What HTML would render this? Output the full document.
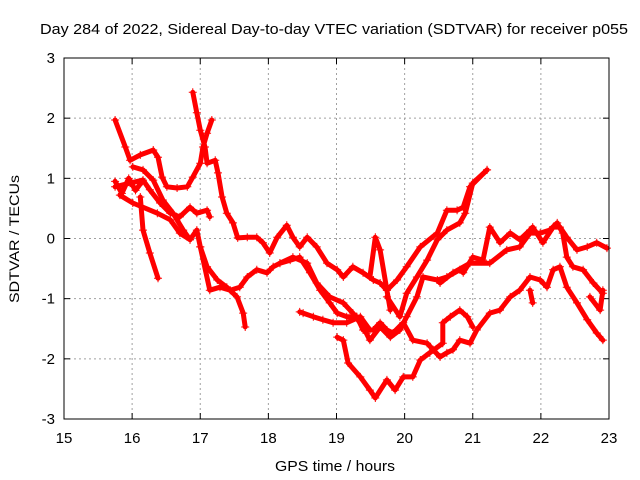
<!DOCTYPE html>
<html><head><meta charset="utf-8"><style>
html,body{margin:0;padding:0;background:#fff;}
svg{display:block;font-family:"Liberation Sans",sans-serif;}
</style></head><body>
<svg id="chart" width="640" height="480" xmlns="http://www.w3.org/2000/svg">
<rect width="640" height="480" fill="#fff"/>
<text x="334" y="34" font-size="15" text-anchor="middle" textLength="588" lengthAdjust="spacingAndGlyphs">Day 284 of 2022, Sidereal Day-to-day VTEC variation (SDTVAR) for receiver p055</text>
<text x="335" y="471" font-size="15" text-anchor="middle" textLength="120" lengthAdjust="spacingAndGlyphs">GPS time / hours</text>
<text x="19" y="239" font-size="14" text-anchor="middle" textLength="128" lengthAdjust="spacingAndGlyphs" transform="rotate(-90 19 239)">SDTVAR / TECUs</text>
<g id="grid"></g><g id="ticks"></g><g id="series"></g>
<rect x="64" y="58" width="545" height="361" fill="none" stroke="#000" stroke-width="1"/>
</svg>
<script>
const xTicks=[15,16,17,18,19,20,21,22,23];
const yTicks=[-3,-2,-1,0,1,2,3];
const t1x=[15.75,15.90,15.97,16.12,16.31,16.38,16.44,16.51,16.66,16.81,16.89,17.00,17.04,17.10,17.17];
const t1y=[1.97,1.52,1.30,1.39,1.47,1.35,1.02,0.86,0.84,0.86,1.02,1.25,1.52,1.75,1.97];
const t2x=[16.89,16.95,17.00,17.07,17.10,17.22,17.26,17.32,17.39,17.48,17.55,17.69,17.83,17.92,18.02,18.13,18.27,18.36,18.46,18.57,18.71,18.86,19.01,19.10,19.24,19.39,19.54,19.64,19.74,19.89,20.03,20.23,20.48,20.62,20.77,20.86,20.96,21.21];
const t2y=[2.43,2.09,1.80,1.52,1.25,1.30,1.09,0.69,0.42,0.26,0.01,0.02,0.02,-0.07,-0.24,0.02,0.22,0.02,-0.14,0.02,-0.14,-0.41,-0.52,-0.64,-0.47,-0.57,-0.69,-0.74,-0.86,-0.69,-0.47,-0.14,0.09,0.47,0.47,0.52,0.86,1.14];
const t3x=[15.75,15.97,16.16,16.26,16.41,16.56,16.70,16.85,16.95,17.10,17.14];
const t3y=[0.86,0.92,0.97,0.81,0.59,0.42,0.36,0.52,0.42,0.47,0.36];
const t4x=[16.01,16.16,16.31,16.45,16.60,16.75,16.85,16.95,17.00,17.10,17.25,17.39,17.54,17.63,17.66];
const t4y=[1.19,1.14,0.97,0.64,0.42,0.14,-0.02,0.14,-0.14,-0.47,-0.69,-0.81,-0.97,-1.24,-1.47];
const t5x=[15.82,16.01,16.37,16.56,16.70,16.85];
const t5y=[0.72,0.59,0.42,0.31,0.09,-0.02];
const t6x=[17.00,17.14,17.29,17.44,17.58,17.69,17.83,17.98,18.07,18.17,18.32,18.46,18.61,18.76,18.90,19.01,19.15,19.30,19.39,19.54,19.64,19.74,19.83,19.98,20.12,20.33,20.42,20.52,20.62,20.71,20.81,20.96,21.06,21.25,21.40,21.55,21.69,21.84,21.99,22.09,22.18,22.28,22.38,22.53,22.68,22.82,22.91];
const t6y=[-0.14,-0.86,-0.81,-0.86,-0.81,-0.64,-0.52,-0.57,-0.47,-0.41,-0.36,-0.31,-0.57,-0.86,-1.07,-1.24,-1.30,-1.30,-1.52,-1.52,-1.40,-1.52,-1.57,-1.40,-1.69,-1.74,-1.85,-1.97,-1.90,-1.85,-1.69,-1.74,-1.52,-1.24,-1.19,-0.97,-0.86,-0.64,-0.69,-0.81,-0.52,-0.47,-0.81,-1.07,-1.35,-1.57,-1.69];
const t7x=[16.12,16.16,16.26,16.38];
const t7y=[0.69,0.14,-0.24,-0.66];
const t8x=[18.17,18.36,18.57,18.71,18.90,19.10,19.24,19.39,19.49,19.64,19.79,19.93,20.03,20.18,20.27,20.48,20.62,20.81,20.86,21.00,21.15,21.25,21.40,21.55,21.69,21.84,21.88,22.03,22.18,22.28,22.38,22.53,22.68,22.82,22.97];
const t8y=[-0.41,-0.31,-0.41,-0.74,-0.97,-1.07,-1.24,-1.47,-1.69,-1.47,-1.64,-1.52,-1.30,-0.97,-0.64,-0.69,-0.64,-0.52,-0.57,-0.31,-0.36,0.19,-0.07,0.09,-0.02,0.14,0.19,-0.07,0.19,0.19,0.02,-0.19,-0.14,-0.07,-0.16];
const t9x=[19.74,19.93,20.03,20.18,20.33,20.48,20.62,20.81,20.89,21.00,21.21];
const t9y=[-0.97,-1.30,-0.91,-0.64,-0.36,-0.02,0.14,0.26,0.42,0.92,1.14];
const t10x=[19.01,19.10,19.17,19.35,19.49,19.57,19.74,19.86,19.98,20.12,20.23,20.37,20.56,20.56,20.67,20.81,20.92,21.00];
const t10y=[-1.64,-1.69,-2.07,-2.30,-2.52,-2.65,-2.35,-2.52,-2.30,-2.30,-2.02,-1.90,-1.74,-1.40,-1.30,-1.19,-1.30,-1.47];
const t11x=[18.46,18.51,18.66,18.80,18.95,19.15,19.35,19.49];
const t11y=[-1.22,-1.24,-1.30,-1.35,-1.40,-1.40,-1.30,-1.52];
const t12x=[19.49,19.57,19.64,19.74,19.79];
const t12y=[-0.64,0.02,-0.19,-0.86,-1.19];
const t13x=[20.52,20.71,20.96,21.25,21.50,21.69,21.84,21.99,22.13,22.24,22.32,22.38,22.47,22.62,22.77,22.91];
const t13y=[-0.74,-0.57,-0.41,-0.41,-0.19,-0.14,0.09,0.09,0.14,0.26,0.09,-0.31,-0.47,-0.52,-0.74,-0.91];
const t14x=[22.72,22.87,22.91];
const t14y=[-0.97,-1.19,-0.86];
const t15x=[21.84,21.88];
const t15y=[-0.86,-1.07];
const t16x=[15.75,15.85,15.95,16.05,16.15];
const t16y=[0.95,0.75,1.00,0.80,0.95];

const NS='http://www.w3.org/2000/svg';
const X0=64,X1=609,Y0=419,Y1=58;
function sx(v){return X0+(v-15)/(23-15)*(X1-X0);}
function sy(v){return Y0-(v+3)/6*(Y0-Y1);}
function mk(tag,attrs,parent){const e=document.createElementNS(NS,tag);for(const k in attrs)e.setAttribute(k,attrs[k]);parent.appendChild(e);return e;}
const grid=document.getElementById('grid'),ticks=document.getElementById('ticks'),ser=document.getElementById('series');
xTicks.forEach(v=>{
  const x=sx(v);
  if(v>15&&v<23){const g=mk('line',{x1:x,y1:Y1,x2:x,y2:Y0,stroke:'#a0a0a0','stroke-dasharray':'2,3'},grid);
  
  }
  mk('line',{x1:x,y1:Y0,x2:x,y2:Y0-6,stroke:'#000'},ticks);
  mk('line',{x1:x,y1:Y1,x2:x,y2:Y1+6,stroke:'#000'},ticks);
  const t=mk('text',{x:x,y:Y0+24,'font-size':15,'text-anchor':'middle'},ticks);
  t.textContent=v;
  
  
});
yTicks.forEach(v=>{
  const y=sy(v);
  if(v>-3&&v<3){const g=mk('line',{x1:X0,y1:y,x2:X1,y2:y,stroke:'#a0a0a0','stroke-dasharray':'2,3'},grid);
  
  }
  mk('line',{x1:X0,y1:y,x2:X0+6,y2:y,stroke:'#000'},ticks);
  mk('line',{x1:X1,y1:y,x2:X1-6,y2:y,stroke:'#000'},ticks);
  const t=mk('text',{x:X0-9,y:y+5,'font-size':15,'text-anchor':'end'},ticks);
  t.textContent=v;
  
  
});
const tracks=[[t1x,t1y],[t2x,t2y],[t3x,t3y],[t4x,t4y],[t5x,t5y],[t6x,t6y],[t7x,t7y],[t8x,t8y],[t9x,t9y],[t10x,t10y],[t11x,t11y],[t12x,t12y],[t13x,t13y],[t14x,t14y],[t15x,t15y],[t16x,t16y]];
tracks.forEach(([xs,ys],i)=>{
  const g=mk('g',{},ser);
  
  
  const pts=xs.map((x,j)=>sx(x).toFixed(1)+','+sy(ys[j]).toFixed(1)).join(' ');
  mk('polyline',{points:pts,fill:'none',stroke:'#ff0000','stroke-width':5,'stroke-linejoin':'round','stroke-linecap':'round'},g);
  xs.forEach((x,j)=>{
    const cx=sx(x),cy=sy(ys[j]);
    const p=mk('path',{d:`M${cx-4},${cy}H${cx+4}M${cx},${cy-4}V${cy+4}`,stroke:'#ff0000','stroke-width':1},g);
    
    
  });
});
</script>
</body></html>
